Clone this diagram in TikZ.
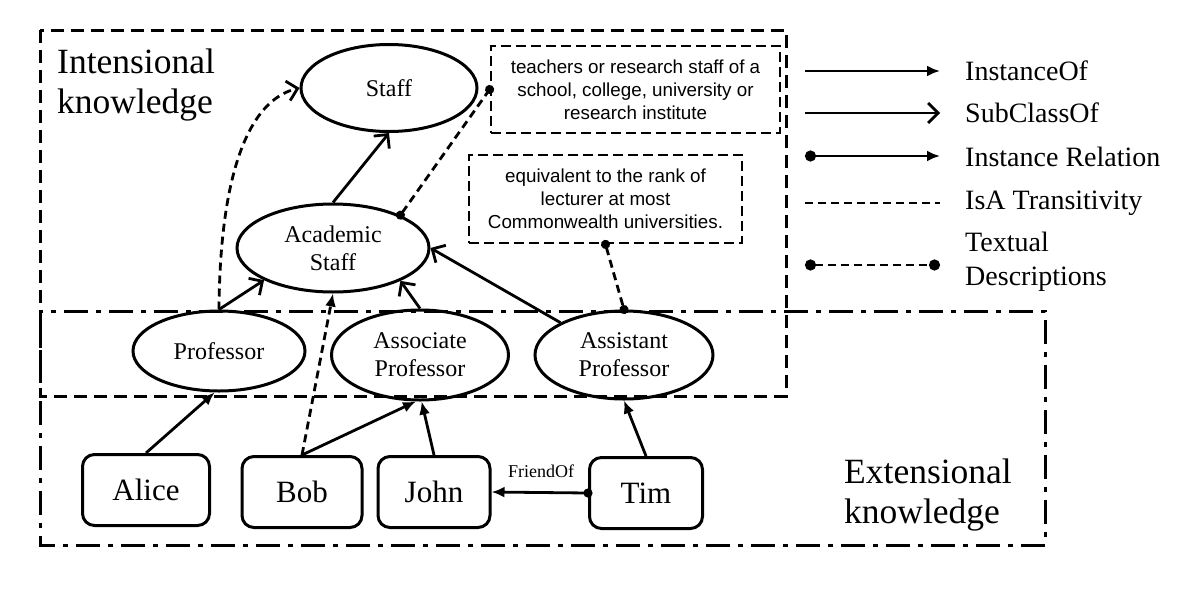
\documentclass[tikz,border=0pt]{standalone}
\usepackage{fontspec}
\setmainfont{Liberation Serif}
\newfontfamily\boxfont{Liberation Sans}
\usetikzlibrary{shapes.geometric,arrows.meta}
\begin{document}
\begin{tikzpicture}[x=1pt,y=-1pt,
  cls/.style={ellipse,draw,line width=3pt,inner sep=0pt,align=center,font=\fontsize{24}{28}\selectfont},
  ind/.style={rectangle,rounded corners=12pt,draw,line width=3pt,inner sep=0pt,minimum height=71pt,font=\fontsize{31}{34}\selectfont},
  desc/.style={rectangle,draw,line width=2.8pt,dash pattern=on 10pt off 5pt,inner sep=0pt,align=center,font=\boxfont\fontsize{18.8}{23}\selectfont},
  big/.style={align=left,anchor=north west,inner sep=0pt,font=\fontsize{35.5}{40}\selectfont},
  leg/.style={anchor=west,inner sep=0pt,align=left,font=\fontsize{28}{34}\selectfont},
  edge/.style={line width=2.8pt},
  sub/.style={edge,-{Straight Barb[length=10pt,width=20pt]}},
  inst/.style={edge,-{Latex[length=13pt,width=11pt]}},
  rel/.style={edge,{Circle[length=9pt,sep=-4.5pt]}-{Latex[length=13pt,width=11pt]}},
  isa/.style={edge,dash pattern=on 8pt off 5pt},
  txt/.style={edge,dash pattern=on 8pt off 5pt,{Circle[length=9pt,sep=-4.5pt]}-{Circle[length=9pt,sep=-4.5pt]}},
  frame/.style={line width=3pt}
]
\useasboundingbox (0,0) rectangle (1194,592);
\fill[white] (0,0) rectangle (1194,592);

% frames
\draw[frame,dash pattern=on 13pt off 7pt] (40,30) rectangle (786,396);
\draw[frame,dash pattern=on 24pt off 8pt on 5pt off 8pt] (40,311) rectangle (1045,545);

% labels
\node[big] (intl) at (57,48.5) {Intensional\\knowledge};
\node[big] (extl) at (844,458.5) {Extensional\\knowledge};

% classes
\node[cls,minimum width=176pt,minimum height=87pt] (staff) at (389,88) {Staff};
\node[cls,minimum width=192pt,minimum height=88pt] (acad) at (333,248) {Academic\\Staff};
\node[cls,minimum width=172pt,minimum height=80pt] (prof) at (219,351) {Professor};
\node[cls,minimum width=177pt,minimum height=90pt] (assoc) at (420,355) {Associate\\Professor};
\node[cls,minimum width=178pt,minimum height=88pt] (asst) at (624,355) {Assistant\\Professor};

% descriptions
\node[desc,minimum width=289pt,minimum height=87pt] (desc1) at (635.5,89.5) {teachers or research staff of a\\school, college, university or\\research institute};
\node[desc,minimum width=273pt,minimum height=88pt] (desc2) at (605.5,199) {equivalent to the rank of\\lecturer at most\\Commonwealth universities.};

% individuals
\node[ind,minimum width=127pt] (alice) at (146,490) {Alice};
\node[ind,minimum width=120pt] (bob) at (302,492) {Bob};
\node[ind,minimum width=112pt] (john) at (434,492) {John};
\node[ind,minimum width=113pt] (tim) at (646,493) {Tim};

% subclass edges
\draw[sub] (acad.north) -- (staff.south);
\draw[sub] (prof.north) -- (acad.205);
\draw[sub] (assoc.north) -- (acad.334);
\draw[sub] (asst.153) -- (acad.east);

% isa transitivity
\draw[isa,-{Straight Barb[length=10pt,width=20pt]}] (prof.north) .. controls (220,170) and (250,100) .. (staff.west);
\draw[isa,-{Latex[length=13pt,width=11pt]}] (bob.north) -- (acad.south);

% textual descriptions
\draw[txt] (acad.26) -- (desc1.west);
\draw[txt] (desc2.south) -- (asst.north);

% instance of
\draw[inst] (alice.north) -- (prof.264);
\draw[inst] (bob.north) -- (assoc.265);
\draw[inst] (john.north) -- (assoc.272);
\draw[inst] (tim.north) -- (asst.south);

% instance relation
\draw[rel] (tim.west) -- (john.east);
\node[inner sep=0pt,font=\fontsize{18}{20}\selectfont] (friend) at (541,471) {FriendOf};

% legend
\coordinate (l1a) at (805,71);  \coordinate (l1b) at (940,71);
\coordinate (l2a) at (805,113); \coordinate (l2b) at (940,113);
\coordinate (l3a) at (805,156); \coordinate (l3b) at (940,156);
\coordinate (l4a) at (805,203); \coordinate (l4b) at (940,203);
\coordinate (l5a) at (805,265); \coordinate (l5b) at (940,265);
\draw[inst] (l1a) -- (l1b);
\draw[sub] (l2a) -- (l2b);
\draw[edge,{Circle[length=11pt]}-{Latex[length=13pt,width=11pt]}] (l3a) -- (l3b);
\draw[isa] (l4a) -- (l4b);
\draw[edge,dash pattern=on 8pt off 5pt,{Circle[length=11pt]}-{Circle[length=11pt]}] (l5a) -- (l5b);
\node[leg] (t1) at (965,71) {InstanceOf};
\node[leg] (t2) at (965,113) {SubClassOf};
\node[leg] (t3) at (965,157) {Instance Relation};
\node[leg] (t4) at (965,203) {IsA Transitivity};
\node[leg] (t5) at (965,262) {Textual\\Descriptions};
\end{tikzpicture}
\end{document}
